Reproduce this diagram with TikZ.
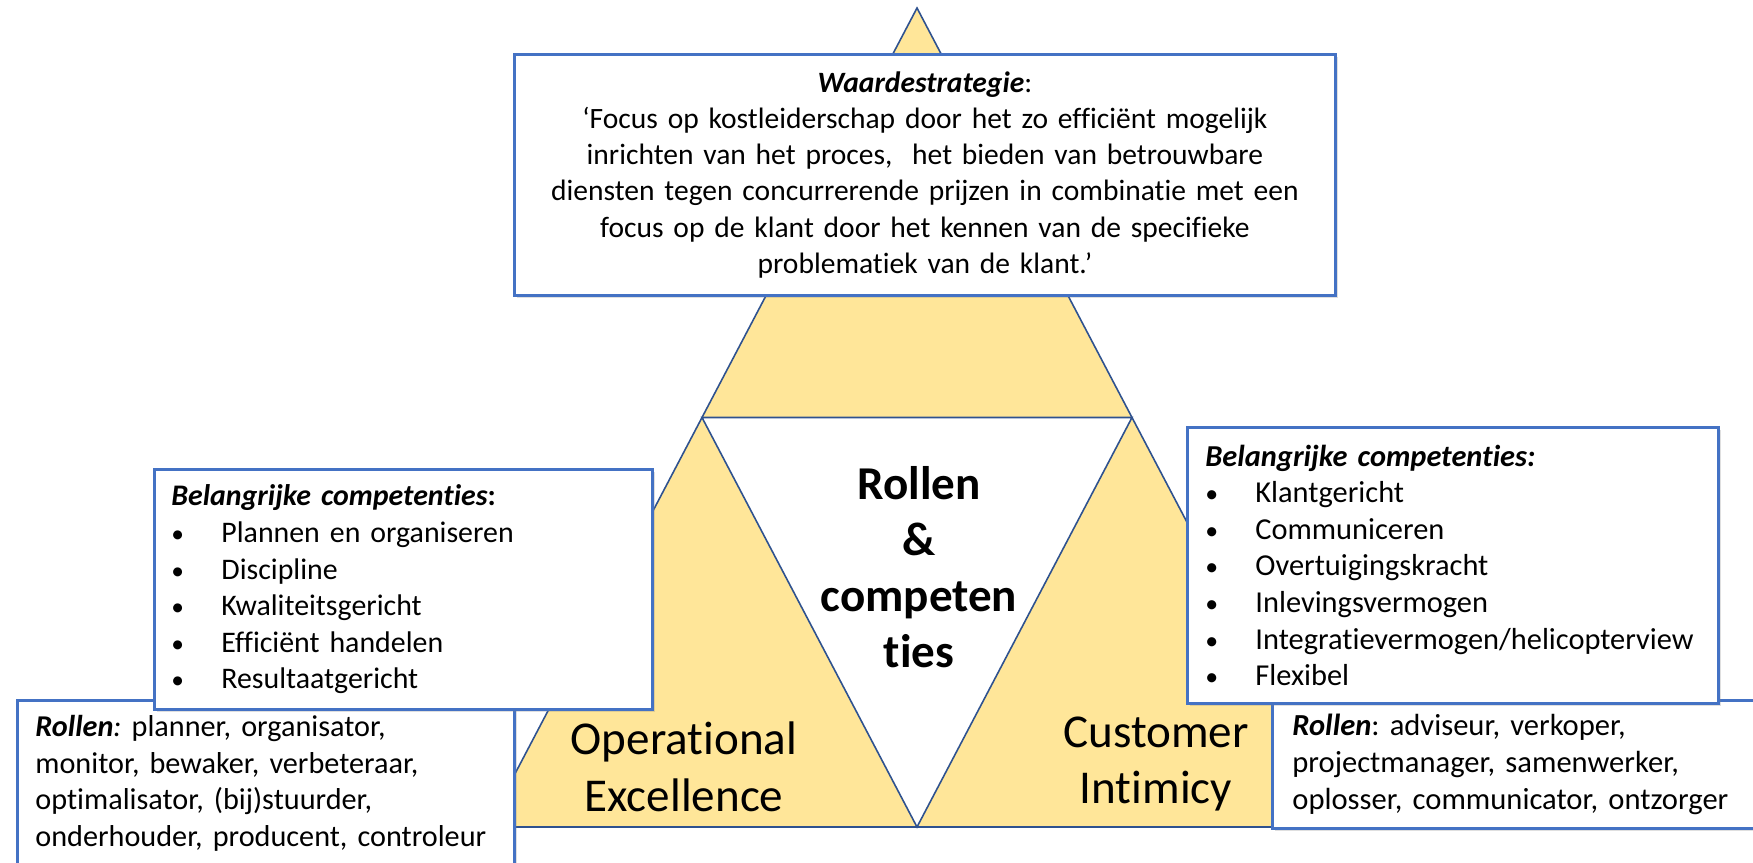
\documentclass[tikz,border=0pt]{standalone}
\usepackage{fontspec}
\setmainfont{Carlito}[Ligatures=NoCommon]
\usetikzlibrary{calc,shadows}

\definecolor{gold}{HTML}{FFE699}
\definecolor{edge}{HTML}{2F528F}
\definecolor{frame}{HTML}{4472C4}

\newcommand{\itm}[1]{\makebox[5mm][l]{\scalebox{0.85}{\textbullet}}#1}
\frenchspacing

\begin{document}
\begin{tikzpicture}[x=0.1mm, y=-0.1mm,
        box/.style={draw=frame, line width=0.8pt, fill=white, anchor=north west,
            font=\fontsize{8.4}{10.3}\selectfont,
            drop shadow={shadow xshift=0.3mm, shadow yshift=-0.3mm, opacity=0.25}},
        big/.style={font=\fontsize{13.4}{16.2}\selectfont, align=center}]
        \useasboundingbox (0,0) rectangle (1753,862);

        % Triangle
        \coordinate (A) at (917,8);
        \coordinate (B) at (487,827);
        \coordinate (C) at (1347,827);
        \draw [edge, line width=0.45pt, fill=gold] (A) -- (B) -- (C) -- cycle;
        \draw [edge, line width=0.45pt, fill=white] ($(A)!0.5!(B)$) -- ($(A)!0.5!(C)$) -- ($(B)!0.5!(C)$) -- cycle;

        % Labels in the triangle
        \node [big, font=\fontsize{13.4}{16}\selectfont\bfseries] (mid) at (919,567) {Rollen\\\&\\competen\\ties};
        \node [big] (opex) at (684,767) {Operational\\Excellence};
        \node [big] (cint) at (1156,764) {Customer\\Intimicy};

        % Boxes
        \node [box, minimum width=82.1mm, minimum height=24.1mm, inner xsep=2mm,
            text width=78.1mm, align=center] (top) at (513,53) {\textbf{\textit{Waardestrategie}}:\\
            ‘Focus op kostleiderschap door het zo efficiënt mogelijk\\
            inrichten van het proces,\ \ het bieden van betrouwbare\\
            diensten tegen concurrerende prijzen in combinatie met een\\
            focus op de klant door het kennen van de specifieke\\
            problematiek van de klant.’};
        \node [box, minimum width=49.7mm, minimum height=16.6mm, inner xsep=1.8mm,
            text width=46.1mm, align=left, font=\fontsize{8.6}{10.4}\selectfont] (lrol) at (16,699) {\textbf{\textit{Rollen}}\textit{:} planner, organisator,\\
            monitor, bewaker, verbeteraar,\\
            optimalisator, (bij)stuurder,\\
            onderhouder, producent, controleur};
        \node [box, minimum width=49.8mm, minimum height=24mm, inner xsep=1.7mm,
            text width=46.4mm, align=left, font=\fontsize{8.5}{10.4}\selectfont] (lcomp) at (153,468) {\textbf{\textit{Belangrijke competenties}:}\\
            \itm{Plannen en organiseren}\\
            \itm{Discipline}\\
            \itm{Kwaliteitsgericht}\\
            \itm{Efficiënt handelen}\\
            \itm{Resultaatgericht}};
        \node [box, minimum width=50.9mm, minimum height=12.8mm, inner xsep=2mm,
            text width=46.9mm, align=left, font=\fontsize{8.7}{10.4}\selectfont] (rrol) at (1271,699) {\textbf{\textit{Rollen}}: adviseur, verkoper,\\
            projectmanager, samenwerker,\\
            oplosser, communicator, ontzorger};
        \node [box, minimum width=53.1mm, minimum height=27.6mm, inner xsep=1.8mm,
            text width=49.5mm, align=left, font=\fontsize{8.65}{10.4}\selectfont] (rcomp) at (1186,426) {\textbf{\textit{Belangrijke competenties:}}\\
            \itm{Klantgericht}\\
            \itm{Communiceren}\\
            \itm{Overtuigingskracht}\\
            \itm{Inlevingsvermogen}\\
            \itm{Integratievermogen/helicopterview}\\
            \itm{Flexibel}};
    \end{tikzpicture}
\end{document}
